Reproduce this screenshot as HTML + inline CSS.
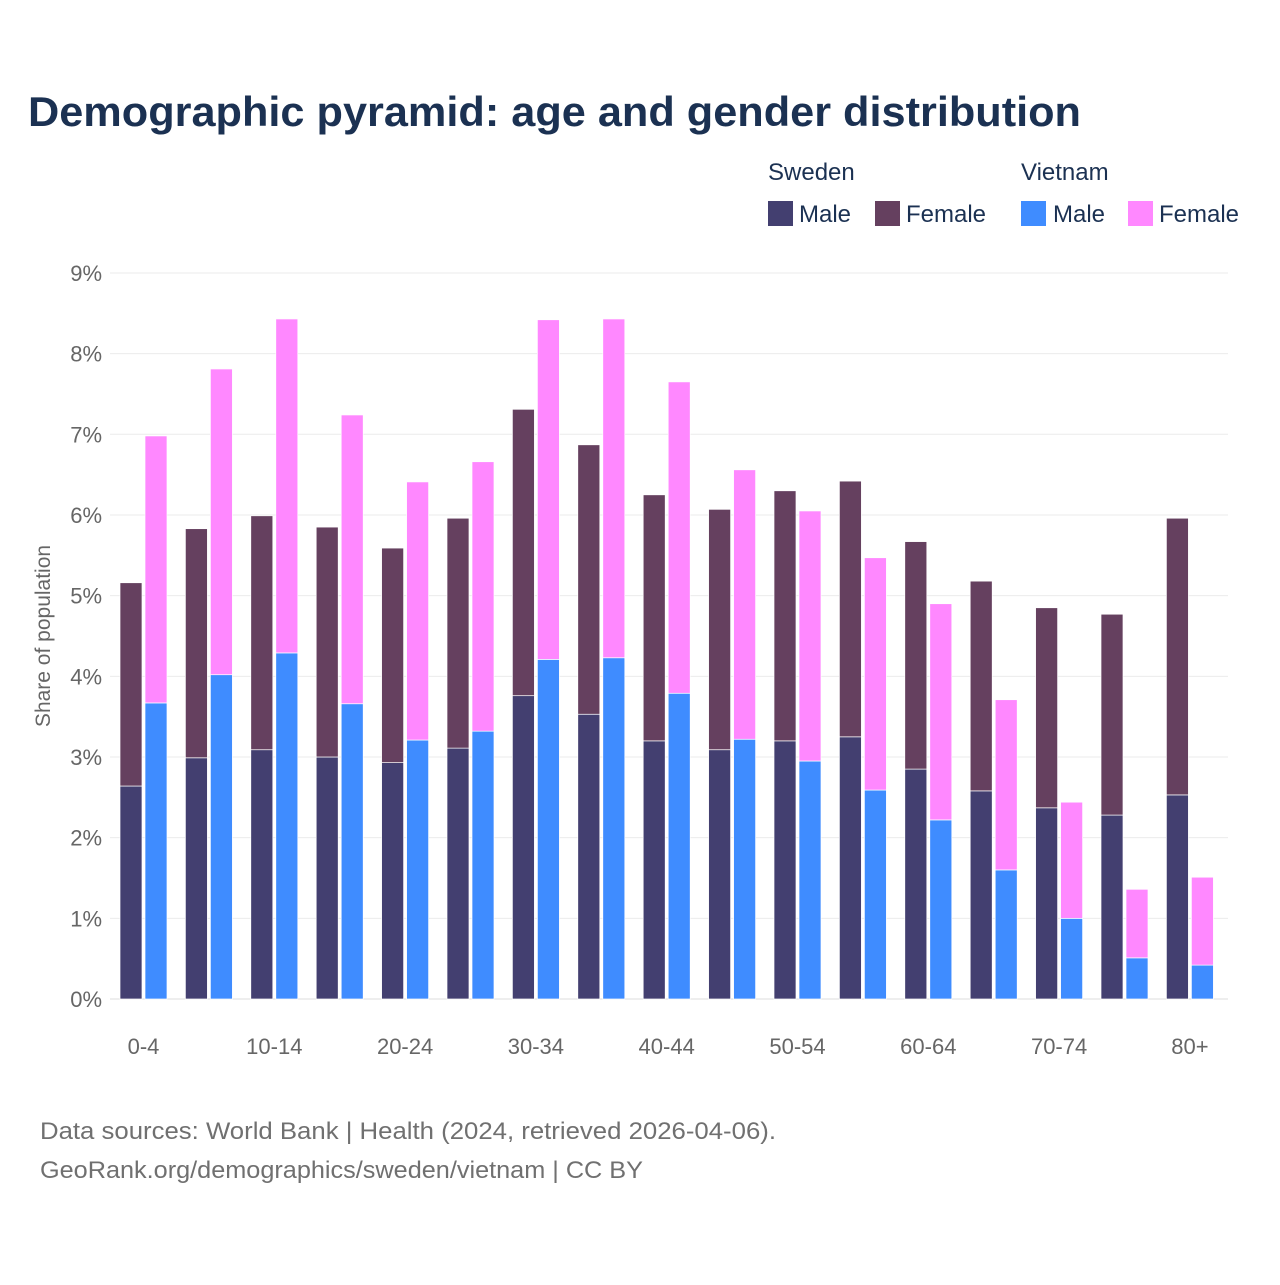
<!DOCTYPE html>
<html><head><meta charset="utf-8"><style>
body{margin:0;background:#fff;}
svg text{font-family:"Liberation Sans",sans-serif;}
</style></head><body>
<svg id="chart" width="1280" height="1280" viewBox="0 0 1280 1280" xmlns="http://www.w3.org/2000/svg">
<text x="28" y="126" font-size="42" font-weight="bold" fill="#1b3152" textLength="1053" lengthAdjust="spacingAndGlyphs">Demographic pyramid: age and gender distribution</text>
<g>
<text x="768" y="180" font-size="24" fill="#1b3152">Sweden</text>
<text x="1021" y="180" font-size="24" fill="#1b3152">Vietnam</text>
<g><rect x="768" y="201" width="25" height="25" fill="#433f70"/><text x="799" y="222" font-size="24" fill="#1b3152">Male</text></g>
<g><rect x="875" y="201" width="25" height="25" fill="#65405f"/><text x="906" y="222" font-size="24" fill="#1b3152">Female</text></g>
<g><rect x="1021" y="201" width="25" height="25" fill="#3f8cff"/><text x="1053" y="222" font-size="24" fill="#1b3152">Male</text></g>
<g><rect x="1128" y="201" width="25" height="25" fill="#ff88ff"/><text x="1159" y="222" font-size="24" fill="#1b3152">Female</text></g>
</g>
<text transform="translate(50,636) rotate(-90)" text-anchor="middle" font-size="21" fill="#666">Share of population</text>
<g id="grid"></g><g id="bars"></g><g id="xlabels"></g>
<text x="40" y="1139" font-size="24" fill="#707070" textLength="736" lengthAdjust="spacingAndGlyphs">Data sources: World Bank | Health (2024, retrieved 2026-04-06).</text>
<text x="40" y="1178" font-size="24" fill="#707070" textLength="603" lengthAdjust="spacingAndGlyphs">GeoRank.org/demographics/sweden/vietnam | CC BY</text>
</svg>
<script>
const categories=["0-4","5-9","10-14","15-19","20-24","25-29","30-34","35-39","40-44","45-49","50-54","55-59","60-64","65-69","70-74","75-79","80+"];
const seMale=[2.64,2.99,3.09,3.00,2.93,3.11,3.76,3.53,3.20,3.09,3.20,3.25,2.85,2.58,2.37,2.28,2.53];
const seFemale=[2.52,2.84,2.90,2.85,2.66,2.85,3.55,3.34,3.05,2.98,3.10,3.17,2.82,2.60,2.48,2.49,3.43];
const vnMale=[3.67,4.02,4.29,3.66,3.21,3.32,4.21,4.23,3.79,3.22,2.95,2.59,2.22,1.60,1.00,0.51,0.42];
const vnFemale=[3.31,3.79,4.14,3.58,3.20,3.34,4.21,4.20,3.86,3.34,3.10,2.88,2.68,2.11,1.44,0.85,1.09];
const yTicks=[0,1,2,3,4,5,6,7,8,9];
const xLabelIdx=[0,2,4,6,8,10,12,14,16];
const NS="http://www.w3.org/2000/svg";
const y0=999,yPer=80.67,x0=120,step=65.4,bw=22;
const Y=v=>y0-v*yPer;
const X=i=>x0+step*i;
function mk(t,a,p){const e=document.createElementNS(NS,t);for(const k in a)e.setAttribute(k,a[k]);p.appendChild(e);return e;}
const grid=document.getElementById('grid'),bars=document.getElementById('bars'),xl=document.getElementById('xlabels');
yTicks.forEach(t=>{
 const l=mk('line',{x1:110,x2:1228,y1:Y(t),y2:Y(t),stroke:t==0?'#dcdcdc':'#ebebeb','stroke-width':1},grid);
 
 
 const tx=mk('text',{x:102,y:Y(t)+8,'text-anchor':'end','font-size':22,fill:'#666'},grid);
 tx.textContent=t+'%';
 
 
});
function seg(x,v0,v1,c,n){
 const r=mk('rect',{x:x,y:Y(v1),width:bw,height:Y(v0)-Y(v1),fill:c,stroke:'#fff','stroke-width':0.7},bars);
 
 
}
categories.forEach((c,i)=>{
 seg(X(i),0,seMale[i],'#433f70','bar-sweden-male-'+c);
 seg(X(i),seMale[i],seMale[i]+seFemale[i],'#65405f','bar-sweden-female-'+c);
 seg(X(i)+25,0,vnMale[i],'#3f8cff','bar-vietnam-male-'+c);
 seg(X(i)+25,vnMale[i],vnMale[i]+vnFemale[i],'#ff88ff','bar-vietnam-female-'+c);
});
xLabelIdx.forEach(i=>{
 const t=mk('text',{x:X(i)+23.5,y:1054,'text-anchor':'middle','font-size':22,fill:'#666'},xl);
 t.textContent=categories[i];
 
 
});
</script>
</body></html>
